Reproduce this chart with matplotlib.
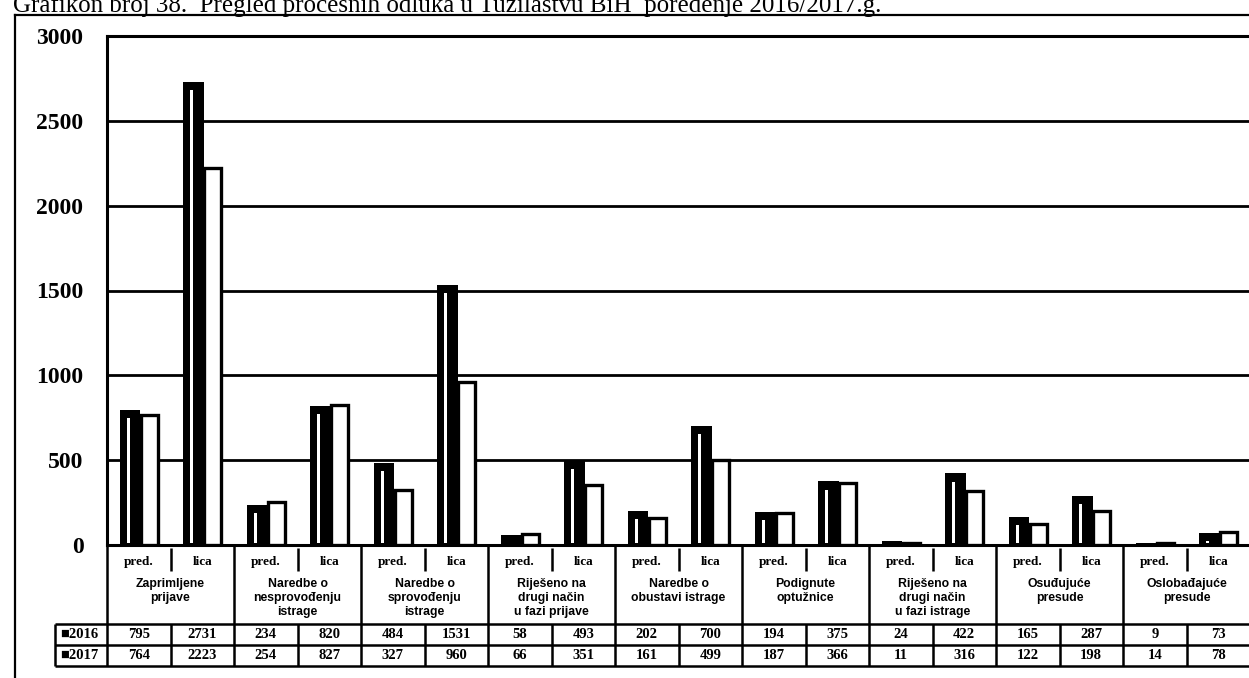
import matplotlib

matplotlib.use("Agg")
import matplotlib.pyplot as plt  # noqa: E402
import numpy as np  # noqa: E402
from matplotlib.lines import Line2D  # noqa: E402

# --- data ---
title = "Grafikon broj 38.  Pregled procesnih odluka u Tužilaštvu BiH  poređenje 2016/2017.g."
groups = ["Zaprimljene\nprijave", "Naredbe o\nnesprovođenju\nistrage",
          "Naredbe o\nsprovođenju\nistrage", "Riješeno na\ndrugi način\nu fazi prijave",
          "Naredbe o\nobustavi istrage", "Podignute\noptužnice",
          "Riješeno na\ndrugi način\nu fazi istrage", "Osuđujuće\npresude",
          "Oslobađajuće\npresude"]
sub_labels = ["pred.", "lica"]
years = ["2016", "2017"]
v2016 = [795, 2731, 234, 820, 484, 1531, 58, 493, 202, 700, 194, 375, 24, 422, 165, 287, 9, 73]
v2017 = [764, 2223, 254, 827, 327, 960, 66, 351, 161, 499, 187, 366, 11, 316, 122, 198, 14, 78]
yticks = [0, 500, 1000, 1500, 2000, 2500, 3000]

W, H = 1249, 678
SERIF = ["Liberation Serif", "DejaVu Serif"]
SANS = ["Liberation Sans", "DejaVu Sans"]


def fx(px):
    return px / W


def fy(py):
    return 1 - py / H


fig = plt.figure(figsize=(W / 100, H / 100), dpi=100)

# outer frame + title (sits right on the frame, as in the scan)
fig.add_artist(Line2D([fx(15), fx(W)], [fy(15), fy(15)], color="black", lw=1.6))
fig.add_artist(Line2D([fx(15), fx(15)], [fy(15), 0], color="black", lw=1.6))
fig.text(fx(13), fy(12), title, family=SERIF, fontsize=18, va="baseline", ha="left")

# --- plot area ---
PL, PR, PT, PB = 107, 1250, 36, 545
ax = fig.add_axes([fx(PL), fy(PB), fx(PR - PL), (PB - PT) / H])
n = len(v2016)
x = np.arange(n)
ax.set_xlim(0, n)
ax.set_ylim(0, 3000)
ax.set_yticks(yticks)
ax.set_yticklabels([str(t) for t in yticks], family=SERIF, fontsize=17, fontweight="bold")
ax.tick_params(axis="y", length=0, pad=17)
ax.set_xticks([])
ax.set_axisbelow(True)
ax.grid(axis="y", color="black", lw=2.0)
for side in ["left", "top", "bottom"]:
    ax.spines[side].set_linewidth(2.2)
ax.spines["right"].set_visible(False)

ax.bar(x + 0.2, v2016, width=0.32, align="edge", color="black", zorder=3)
# light stripe on the dark bars (scan of a shaded column)
stripe = np.clip(np.array(v2016) - 60, 0, None)
ax.bar(x + 0.31, stripe, bottom=12, width=0.05, align="edge", color="white", zorder=4)
ax.bar(x + 0.53, v2017, width=0.27, align="edge", color="white",
       edgecolor="black", lw=2.4, zorder=3)

# --- data table under the plot ---
TL, TB = 55, 666
unit = (PR - PL) / n
tax = fig.add_axes([fx(TL), fy(TB), fx(PR - TL), (TB - PB) / H])
x_left = -(PL - TL) / unit
tax.set_xlim(x_left, n)
tax.set_ylim(TB, PB)
tax.axis("off")

row_lines = [624, 645, 666]
row_centers = [634.5, 655.5]
kw = dict(color="black", lw=1.8, clip_on=False, solid_capstyle="butt")
for y in row_lines:
    tax.plot([x_left, n], [y, y], **kw)
tax.plot([x_left, x_left], [row_lines[0], row_lines[-1]], **kw)
for g in range(len(groups) + 1):
    tax.plot([2 * g, 2 * g], [PB, row_lines[-1]], **kw)
for g in range(len(groups)):
    xm = 2 * g + 1
    tax.plot([xm, xm], [PB + 3, PB + 26], **kw)
    tax.plot([xm, xm], [row_lines[0], row_lines[-1]], **kw)
    for k, lab in enumerate(sub_labels):
        tax.text(2 * g + k + 0.5, 562, lab, ha="center", va="center",
                 family=SERIF, fontsize=9.5, fontweight="bold")
    for j, line in enumerate(groups[g].split("\n")):
        tax.text(xm, 584 + 14 * j, line, ha="center", va="center",
                 family=SANS, fontsize=8.8, fontweight="bold")

for r, (yr, vals) in enumerate(zip(years, [v2016, v2017])):
    tax.text(x_left + 0.08, row_centers[r], "■" + yr, ha="left", va="center",
             family=SERIF + ["DejaVu Sans"], fontsize=10.5, fontweight="bold")
    for i, v in enumerate(vals):
        tax.text(i + 0.5, row_centers[r], str(v), ha="center", va="center",
                 family=SERIF, fontsize=10.5, fontweight="bold")

fig.savefig("out.png", dpi=100)
